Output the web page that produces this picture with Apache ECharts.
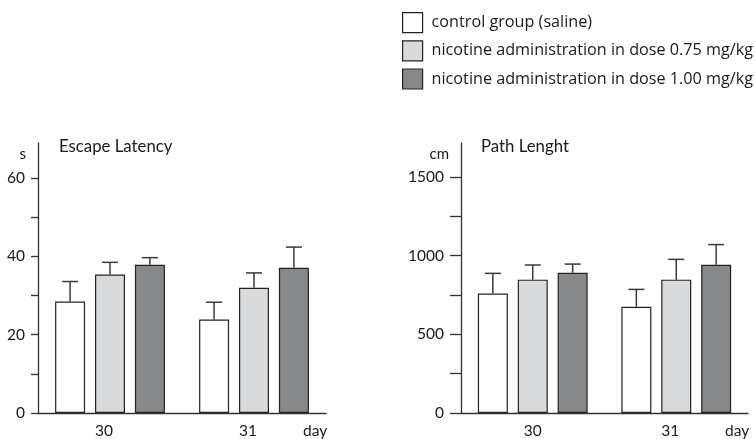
<!DOCTYPE html>
<html><head><meta charset="utf-8">
<script src="https://cdn.jsdelivr.net/npm/echarts@6/dist/echarts.min.js"></script>
<style>html,body{margin:0;padding:0;background:#fff}#c{width:755px;height:439px}</style>
</head><body><div id="c"></div>
<script>
const days = ['30', '31'];
const seriesNames = ['control group (saline)', 'nicotine administration in dose 0.75 mg/kg', 'nicotine administration in dose 1.00 mg/kg'];
// Escape latency (s): means and upper error ends
const latencyMean = [[28.5, 23.9], [35.4, 32.0], [37.9, 37.1]];
const latencyErrTop = [[33.6, 28.3], [38.5, 35.8], [39.7, 42.4]];
// Path length (cm)
const pathMean = [[760, 676], [848, 848], [892, 943]];
const pathErrTop = [[888, 786], [941, 977], [947, 1071]];
const latencyTicks = [0, 10, 20, 30, 40, 50, 60];
const latencyLabels = [0, 20, 40, 60];
const pathTicks = [0, 250, 500, 750, 1000, 1250, 1500];
const pathLabels = [0, 500, 1000, 1500];

const colors = ['#ffffff', '#d9dadc', '#87888a'];
const FONT = 'Lato';
const LFONT = 'Open Sans';
const TXT = '#1a1a1a';
const AX = '#333';
const BW = 30, GAP = 0.33;

function xAxis(gi, shifts) {
  return {
    type: 'category', gridIndex: gi,
    data: days.map((d, i) => ({ value: d, textStyle: { padding: [0, shifts[i], 0, 0] } })),
    axisLine: { lineStyle: { color: AX, width: 1.3 } },
    axisTick: { length: 7, lineStyle: { color: AX, width: 1.3 } },
    axisLabel: { color: TXT, fontFamily: FONT, fontSize: 15.5, margin: 10 },
    name: 'day', nameLocation: 'end', nameGap: -23,
    nameTextStyle: { color: TXT, fontFamily: FONT, fontSize: 15.5, verticalAlign: 'top', align: 'left', padding: [10, 0, 0, 0] }
  };
}
function yAxis(gi, max, ticks, labels, name, tickLen, margin) {
  return {
    type: 'value', gridIndex: gi, min: 0, max: max,
    splitLine: { show: false },
    axisLine: { show: true, lineStyle: { color: AX, width: 1.3 } },
    axisTick: { show: true, length: tickLen, customValues: ticks, lineStyle: { color: AX, width: 1.3 } },
    axisLabel: { customValues: labels, formatter: v => String(v), color: TXT, fontFamily: FONT, fontSize: 15.5, margin: margin },
    name: name, nameLocation: 'end', nameGap: -19,
    nameTextStyle: { color: TXT, fontFamily: FONT, fontSize: 15, align: 'right', padding: [0, 12, 0, 0] }
  };
}
function bars(gi, means) {
  return means.map((vals, k) => ({
    type: 'bar', name: seriesNames[k], xAxisIndex: gi, yAxisIndex: gi,
    data: vals, barWidth: BW, barGap: (GAP * 100) + '%',
    itemStyle: { color: colors[k], borderColor: '#222', borderWidth: 1.2 },
    emphasis: { disabled: true }
  }));
}
function errs(gi, means, tops) {
  return means.map((vals, k) => ({
    type: 'custom', name: 'err' + gi + k, xAxisIndex: gi, yAxisIndex: gi, z: 5,
    data: vals.map((v, i) => [i, v, tops[k][i]]),
    renderItem: function (params, api) {
      const b = api.coord([api.value(0), api.value(1)]);
      const t = api.coord([api.value(0), api.value(2)]);
      const x = b[0] + (k - 1) * BW * (1 + GAP);
      const st = { stroke: '#3a3a3a', lineWidth: 1.5 };
      return { type: 'group', children: [
        { type: 'line', shape: { x1: x, y1: b[1], x2: x, y2: t[1] }, style: st },
        { type: 'line', shape: { x1: x - 8, y1: t[1], x2: x + 8, y2: t[1] }, style: st }
      ] };
    }
  }));
}

const chart = echarts.init(document.getElementById('c'), null, { renderer: 'canvas' });
chart.setOption({
  backgroundColor: '#fff',
  animation: false,
  textStyle: { fontFamily: FONT },
  title: [
    { text: 'Escape Latency', left: 59, top: 138, textStyle: { color: TXT, fontFamily: FONT, fontSize: 16.8, fontWeight: 'normal' }, padding: 0 },
    { text: 'Path Lenght', left: 481, top: 138, textStyle: { color: TXT, fontFamily: FONT, fontSize: 16.8, fontWeight: 'normal' }, padding: 0 }
  ],
  legend: {
    orient: 'vertical', left: 402, top: 12, itemWidth: 20, itemHeight: 20, itemGap: 7,
    padding: 0, icon: 'rect', selectedMode: false,
    data: seriesNames,
    itemStyle: { borderColor: '#222', borderWidth: 1.2 },
    textStyle: { color: TXT, fontFamily: LFONT, fontSize: 16.2, padding: [0, 0, 0, 4] }
  },
  grid: [
    { left: 38, right: 429, top: 143, bottom: 26, containLabel: false },
    { left: 461, right: 7, top: 143, bottom: 26, containLabel: false }
  ],
  xAxis: [xAxis(0, [12, 12]), xAxis(1, [0, 12])],
  yAxis: [
    yAxis(0, 69, latencyTicks, latencyLabels, 's', 7, 13),
    yAxis(1, 1717, pathTicks, pathLabels, 'cm', 11, 17)
  ],
  series: [].concat(bars(0, latencyMean), bars(1, pathMean), errs(0, latencyMean, latencyErrTop), errs(1, pathMean, pathErrTop))
});
</script></body></html>
